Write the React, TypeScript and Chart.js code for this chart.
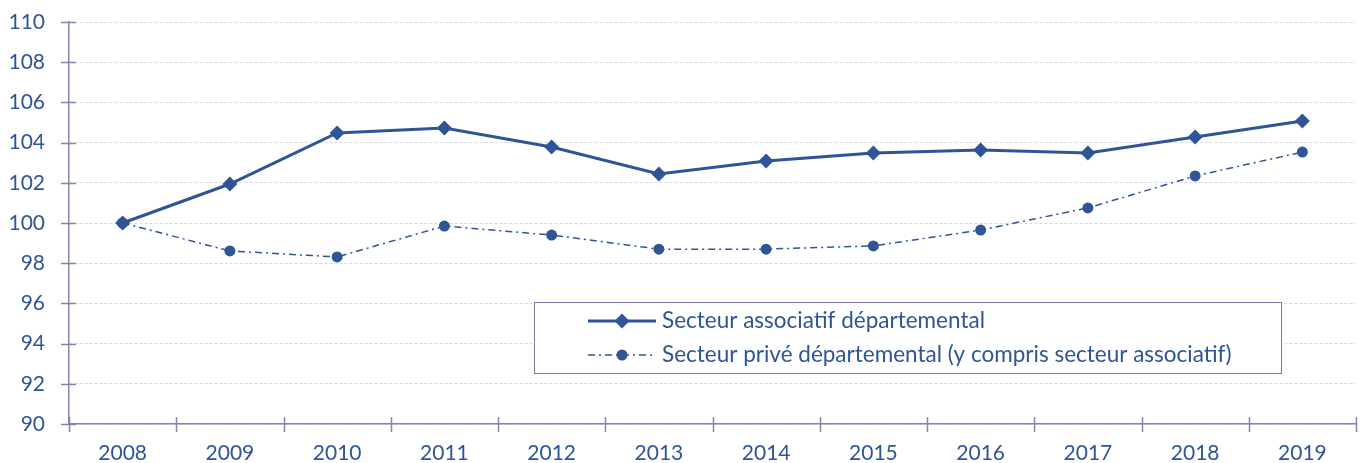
import React, { useEffect, useRef } from "react";
import { Chart, registerables } from "chart.js";

Chart.register(...registerables);

const years = ["2008", "2009", "2010", "2011", "2012", "2013", "2014", "2015", "2016", "2017", "2018", "2019"];
const associatif = [100, 101.94, 104.48, 104.73, 103.78, 102.44, 103.08, 103.48, 103.63, 103.48, 104.28, 105.07];
const prive = [100, 98.61, 98.31, 99.85, 99.4, 98.7, 98.7, 98.86, 99.65, 100.75, 102.34, 103.53];
const legendLabels = [
  "Secteur associatif départemental",
  "Secteur privé départemental (y compris secteur associatif)",
];

const BLUE = "#2F5597";
const TEXT = "#2F5597";
const AXIS = "#8585AD";
const GRID = "#D8D8E6";
const FONT = "Lato, 'Open Sans', sans-serif";

const tickPlugin = {
  id: "crossTicks",
  afterDraw(chart: any) {
    const ctx = chart.ctx;
    const x = chart.scales.x;
    const y = chart.scales.y;
    const area = chart.chartArea;
    ctx.save();
    ctx.strokeStyle = AXIS;
    ctx.lineWidth = 1.5;
    ctx.beginPath();
    y.ticks.forEach((t: any) => {
      const py = Math.round(y.getPixelForValue(t.value)) + 0.5;
      ctx.moveTo(area.left - 8, py);
      ctx.lineTo(area.left + 7, py);
    });
    const n = years.length;
    const step = x.getPixelForValue(1) - x.getPixelForValue(0);
    for (let i = 0; i <= n; i++) {
      const px = Math.round(x.getPixelForValue(0) - step / 2 + i * step) + 0.5;
      ctx.moveTo(px, area.bottom - 7);
      ctx.lineTo(px, area.bottom + 8);
    }
    ctx.stroke();
    ctx.restore();
  },
};

const legendPlugin = {
  id: "boxLegend",
  afterDraw(chart: any) {
    const ctx = chart.ctx;
    const bx = 534.5, by = 302.5, bw = 747, bh = 71;
    ctx.save();
    ctx.fillStyle = "#FFFFFF";
    ctx.fillRect(bx, by, bw, bh);
    ctx.strokeStyle = "#7A7AA8";
    ctx.lineWidth = 1;
    ctx.strokeRect(bx, by, bw, bh);

    const rows = [321, 355];
    ctx.strokeStyle = BLUE;
    ctx.fillStyle = BLUE;
    ctx.lineWidth = 3;
    ctx.beginPath();
    ctx.moveTo(588, rows[0]);
    ctx.lineTo(656, rows[0]);
    ctx.stroke();
    ctx.beginPath();
    ctx.moveTo(622, rows[0] - 7.5);
    ctx.lineTo(629.5, rows[0]);
    ctx.lineTo(622, rows[0] + 7.5);
    ctx.lineTo(614.5, rows[0]);
    ctx.closePath();
    ctx.fill();
    ctx.lineWidth = 1.5;
    ctx.setLineDash([7, 4, 2, 4]);
    ctx.beginPath();
    ctx.moveTo(588, rows[1]);
    ctx.lineTo(656, rows[1]);
    ctx.stroke();
    ctx.setLineDash([]);
    ctx.beginPath();
    ctx.arc(622, rows[1], 5.5, 0, Math.PI * 2);
    ctx.fill();

    ctx.font = `22.5px ${FONT}`;
    ctx.fillStyle = TEXT;
    ctx.textBaseline = "middle";
    ctx.textAlign = "left";
    ctx.fillText(legendLabels[0], 662, rows[0]);
    ctx.fillText(legendLabels[1], 662, rows[1]);
    ctx.restore();
  },
};

export default function App() {
  const ref = useRef<HTMLCanvasElement>(null);
  useEffect(() => {
    if (!ref.current) return;
    const chart = new Chart(ref.current, {
      type: "line",
      data: {
        labels: years,
        datasets: [
          {
            label: legendLabels[0],
            data: associatif,
            borderColor: BLUE,
            backgroundColor: BLUE,
            borderWidth: 3,
            pointStyle: "rectRot",
            pointRadius: 7.5,
            pointBorderWidth: 0,
            tension: 0,
          },
          {
            label: legendLabels[1],
            data: prive,
            borderColor: BLUE,
            backgroundColor: BLUE,
            borderWidth: 1.5,
            borderDash: [7, 4, 2, 4],
            pointStyle: "circle",
            pointRadius: 5.5,
            pointBorderWidth: 0,
            tension: 0,
          },
        ],
      },
      options: {
        animation: false,
        responsive: false,
        maintainAspectRatio: false,
        layout: { padding: { left: 0, right: 11, top: 22, bottom: 0 } },
        plugins: { legend: { display: false }, tooltip: { enabled: false } },
        scales: {
          x: {
            offset: true,
            grid: { display: false, offset: true },
            border: { display: true, color: AXIS, width: 1.5 },
            ticks: { color: TEXT, font: { family: FONT, size: 21 }, padding: 9, maxRotation: 0 },
            afterFit: (s: any) => { s.height = 39; s.paddingLeft = 0; s.paddingRight = 0; },
          },
          y: {
            min: 90,
            max: 110,
            grid: { color: GRID, lineWidth: 1, drawTicks: false },
            border: { display: true, color: AXIS, width: 1.5, dash: [3, 2] },
            ticks: { stepSize: 2, color: TEXT, font: { family: FONT, size: 21 }, padding: 24 },
            afterFit: (s: any) => { s.width = 69; s.paddingTop = 0; s.paddingBottom = 0; },
          },
        },
      },
      plugins: [tickPlugin, legendPlugin],
    });
    return () => chart.destroy();
  }, []);
  return (
    <div style={{ position: "fixed", left: 0, top: 0, width: 1367, height: 463, background: "#fff" }}>
      <canvas ref={ref} width={1367} height={463} style={{ display: "block" }} />
    </div>
  );
}
